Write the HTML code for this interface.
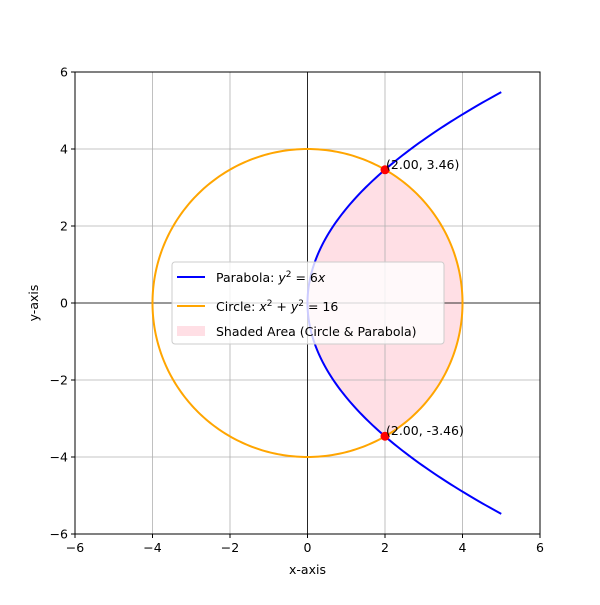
<!DOCTYPE html>
<html><head><meta charset="utf-8"><style>
body{margin:0;background:#fff}
svg text{font-family:"DejaVu Sans","Liberation Sans",sans-serif;font-size:12.5px;fill:#000}
</style></head><body>
<svg id="c" width="600" height="600"></svg>
<script>
const xTicks=[-6,-4,-2,0,2,4,6];
const yTicks=[-6,-4,-2,0,2,4,6];
const parabolaCoef=[6];
const parabolaXMax=[5];
const circleRadius=[4];
const points=[[2,3.46],[2,-3.46]];
const pointLabels=["(2.00, 3.46)","(2.00, -3.46)"];
const L=75,R=540,T=72,B=534;
const sx=v=>L+(v+6)/12*(R-L), sy=v=>B-(v+6)/12*(B-T);
const svg=document.getElementById('c');const NS='http://www.w3.org/2000/svg';
function el(t,a,txt){const e=document.createElementNS(NS,t);for(const k in a)e.setAttribute(k,a[k]);if(txt!=null)e.textContent=txt;svg.appendChild(e);return e;}
el('rect',{x:0,y:0,width:600,height:600,fill:'#fff'});
const a=parabolaCoef[0],r=circleRadius[0];
const yi=Math.sqrt(-a*a/2+Math.sqrt(a*a*a*a/4+a*a*r*r));
let d='';const N=100;
for(let i=0;i<=N;i++){const y=-yi+2*yi*i/N;d+=(i?'L':'M')+sx(y*y/a)+','+sy(y);}
for(let i=N;i>=0;i--){const y=-yi+2*yi*i/N;d+='L'+sx(Math.sqrt(r*r-y*y))+','+sy(y);}
let s=el('path',{d:d+'Z',fill:'#ffc0cb',opacity:0.5});

xTicks.forEach(v=>{let g=el('line',{x1:sx(v),x2:sx(v),y1:T,y2:B,stroke:'#b0b0b0','stroke-width':0.8});
 let t=el('line',{x1:sx(v),x2:sx(v),y1:B,y2:B+4,stroke:'#000'});
 let lb=el('text',{x:sx(v),y:B+18,'text-anchor':'middle'},v<0?'\u2212'+(-v):String(v));});
yTicks.forEach(v=>{let g=el('line',{x1:L,x2:R,y1:sy(v),y2:sy(v),stroke:'#b0b0b0','stroke-width':0.8});
 let t=el('line',{x1:L-4,x2:L,y1:sy(v),y2:sy(v),stroke:'#000'});
 let lb=el('text',{x:L-7,y:sy(v)+4.5,'text-anchor':'end'},v<0?'\u2212'+(-v):String(v));});
let ax=el('line',{x1:L,x2:R,y1:sy(0),y2:sy(0),stroke:'#000','stroke-width':0.8});
let ay=el('line',{x1:sx(0),x2:sx(0),y1:T,y2:B,stroke:'#000','stroke-width':0.8});
let pd='';const ym=Math.sqrt(a*parabolaXMax[0]);
for(let i=0;i<=200;i++){const y=-ym+2*ym*i/200;pd+=(i?'L':'M')+sx(y*y/a)+','+sy(y);}
let p=el('path',{d:pd,fill:'none',stroke:'#0000ff','stroke-width':2});
let cd='';for(let i=0;i<=360;i++){const t=i*Math.PI/180;cd+=(i?'L':'M')+sx(r*Math.cos(t))+','+sy(r*Math.sin(t));}
let c=el('path',{d:cd,fill:'none',stroke:'#ffa500','stroke-width':2});
points.forEach((pt,i)=>{let m=el('circle',{cx:sx(pt[0]),cy:sy(pt[1]),r:4.5,fill:'#ff0000'});
 let t=el('text',{x:sx(pt[0])+1,y:sy(pt[1])-1},pointLabels[i]);});
let fr=el('rect',{x:L,y:T,width:R-L,height:B-T,fill:'none',stroke:'#000','stroke-width':1});
let xt=el('text',{x:(L+R)/2,y:574,'text-anchor':'middle'},'x-axis');
let yt=el('text',{x:38,y:(T+B)/2,'text-anchor':'middle',transform:`rotate(-90 38 ${(T+B)/2})`},'y-axis');
let lg=el('rect',{x:172,y:262,width:272,height:82,rx:3,fill:'#fff','fill-opacity':0.8,stroke:'#ccc'});
let l1=el('line',{x1:177,x2:205,y1:277,y2:277,stroke:'#0000ff','stroke-width':2});
let l2=el('line',{x1:177,x2:205,y1:306,y2:306,stroke:'#ffa500','stroke-width':2});
let l3=el('rect',{x:177,y:326,width:28,height:10,fill:'#ffc0cb',opacity:0.5});
const t1=el('text',{x:216,y:282});t1.innerHTML='Parabola: <tspan font-style="italic">y</tspan><tspan dy="-5" font-size="9">2</tspan><tspan dy="5"> = 6</tspan><tspan font-style="italic">x</tspan>';
const t2=el('text',{x:216,y:311});t2.innerHTML='Circle: <tspan font-style="italic">x</tspan><tspan dy="-5" font-size="9">2</tspan><tspan dy="5"> + </tspan><tspan font-style="italic">y</tspan><tspan dy="-5" font-size="9">2</tspan><tspan dy="5"> = 16</tspan>';
const t3=el('text',{x:216,y:336},'Shaded Area (Circle & Parabola)');
</script></body></html>
